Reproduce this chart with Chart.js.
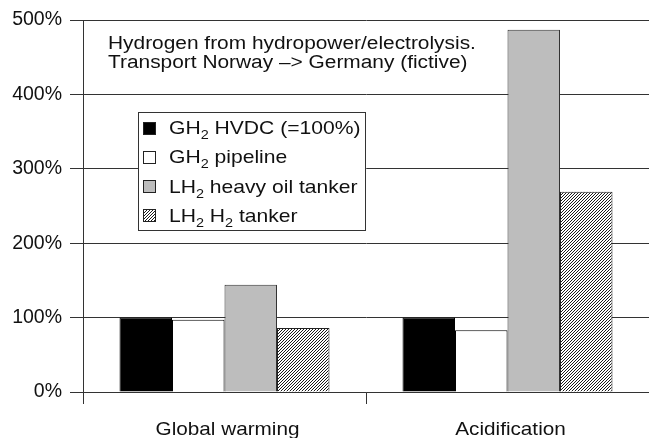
<!DOCTYPE html>
<html lang="en">
<head>
  <meta charset="UTF-8">
  <title>Hydrogen transport comparison</title>
  <script src="https://cdn.jsdelivr.net/npm/chart.js"></script>
  <style>
    html, body { margin: 0; padding: 0; background: #fff; }
    #wrap { width: 649px; height: 438px; }
  </style>
</head>
<body>
  <div id="wrap"><canvas id="chart"></canvas></div>
  <script>
    // data (% of GH2 HVDC)
    const categories = ['Global warming', 'Acidification']
    const hvdc = [100, 100]
    const pipeline = [97, 83]
    const heavyOil = [144, 487]
    const h2Tanker = [86, 269]
    const yTicks = [0, 100, 200, 300, 400, 500]

    // legend labels split in normal / subscript parts
    const legendParts = [
      ['GH', '2', ' HVDC (=100%)'],
      ['GH', '2', ' pipeline'],
      ['LH', '2', ' heavy oil tanker'],
      ['LH', '2', ' H', '2', ' tanker']
    ]
    const noteLines = [
      'Hydrogen from hydropower/electrolysis.',
      'Transport Norway \u2013> Germany (fictive)'
    ]

    const FONT = '"Liberation Sans", Arial, Helvetica, sans-serif'

    // hatch pattern ////
    function makeHatch() {
      const c = document.createElement('canvas')
      c.width = 3; c.height = 3
      const g = c.getContext('2d')
      g.fillStyle = '#fff'
      g.fillRect(0, 0, 3, 3)
      g.strokeStyle = '#000'
      g.lineWidth = 0.9
      g.beginPath()
      g.moveTo(0, 3); g.lineTo(3, 0)
      g.moveTo(-1, 1); g.lineTo(1, -1)
      g.moveTo(2, 4); g.lineTo(4, 2)
      g.stroke()
      return c
    }
    const ctx = document.getElementById('chart').getContext('2d')
    const hatch = ctx.createPattern(makeHatch(), 'repeat')

    const fills = ['#000', '#fff', '#bdbdbd', hatch]
    const borders = ['#000', '#000', '#333', '#222']

    // text drawn a bit wider, like the original typesetting
    function wideText(c, t, x, y, sx) {
      c.save()
      c.translate(x, y)
      c.scale(sx, 1)
      c.fillText(t, 0, 0)
      c.restore()
      return c.measureText(t).width * sx
    }

    const overlay = {
      id: 'overlay',
      afterDraw(chart) {
        const c = chart.ctx
        c.save()
        c.fillStyle = '#111'
        c.textBaseline = 'alphabetic'

        // category labels under the axis
        c.font = '18.5px ' + FONT
        const xs = chart.scales.x
        categories.forEach((t, i) => {
          const w = c.measureText(t).width * 1.12
          c.textAlign = 'left'
          wideText(c, t, xs.getPixelForValue(i) + 3 - w / 2, 435, 1.12)
        })

        // note text
        c.font = '18px ' + FONT
        c.textAlign = 'left'
        noteLines.forEach((t, i) => wideText(c, t, 108, 49 + i * 18.5, 1.16))

        // legend box
        const bx = 138.5, by = 112.5, bw = 227, bh = 118
        c.fillStyle = '#fff'
        c.fillRect(bx, by, bw, bh)
        c.strokeStyle = '#333'
        c.lineWidth = 1
        c.strokeRect(bx, by, bw, bh)

        legendParts.forEach((parts, i) => {
          const cy = 127.5 + i * 29.3
          const sx = 143.5, sy = Math.round(cy - 6) + 0.5
          c.fillStyle = fills[i]
          c.fillRect(sx, sy, 12, 12)
          c.strokeStyle = '#222'
          c.strokeRect(sx, sy, 12, 12)
          let x = 169
          parts.forEach((p, j) => {
            const sub = j % 2 === 1
            c.font = (sub ? '13px ' : '19px ') + FONT
            c.fillStyle = '#111'
            x += wideText(c, p, x, cy + 6.5 + (sub ? 5 : 0), 1.11)
          })
        })
        c.restore()
      }
    }

    new Chart(ctx, {
      type: 'bar',
      data: {
        labels: categories,
        datasets: [hvdc, pipeline, heavyOil, h2Tanker].map((d, i) => ({
          label: legendParts[i].join(''),
          data: d,
          backgroundColor: fills[i],
          borderColor: borders[i],
          borderWidth: 1,
          categoryPercentage: 0.742,
          barPercentage: 1
        }))
      },
      options: {
        responsive: true,
        maintainAspectRatio: false,
        animation: false,
        layout: { padding: { top: 20, right: 0, left: 0, bottom: 0 } },
        plugins: {
          legend: { display: false },
          tooltip: { enabled: false }
        },
        scales: {
          x: {
            grid: { offset: true, drawOnChartArea: false, tickLength: 12, color: '#333' },
            border: { color: '#333' },
            ticks: { color: 'rgba(0,0,0,0)', font: { family: FONT, size: 18.5 }, padding: 5 },
            afterFit: s => { s.height = 46 }
          },
          y: {
            min: 0,
            max: 500,
            afterBuildTicks: s => { s.ticks = yTicks.map(v => ({ value: v })) },
            grid: { color: '#333', tickLength: 13 },
            border: { color: '#333' },
            ticks: {
              color: '#111',
              font: { family: FONT, size: 19.5 },
              padding: 8,
              callback: v => v + '%'
            },
            afterFit: s => { s.width = 83 }
          }
        }
      },
      plugins: [overlay]
    })
  </script>
</body>
</html>
